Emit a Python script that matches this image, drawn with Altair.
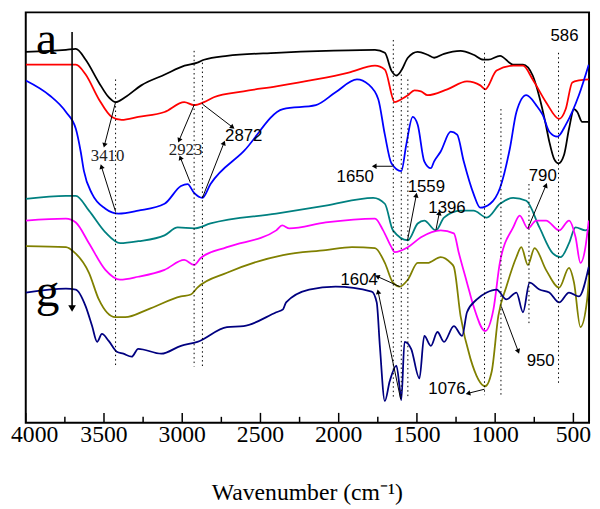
import altair as alt
import pandas as pd
import numpy as np

# ---------------- spectra (wavenumber cm-1, transmittance in arbitrary offset units) -------------
wn_a = [4000, 3743, 3680, 3617, 3533, 3470, 3426, 3365, 3262, 3111, 2985, 2903, 2861, 2714, 2399, 2083, 1768, 1705, 1663, 1631, 1600, 1558, 1495, 1432, 1390, 1327, 1221, 1138, 1075, 1043, 969, 885, 822, 760, 717, 680, 654, 622, 595, 559, 528, 496, 475, 444, 402]
tr_a = [376, 378, 379, 368, 345, 330, 325, 330, 342, 353, 362, 365, 368, 372, 375, 377, 378, 375, 357, 352, 357, 370, 376, 373, 370, 374, 377, 373, 368, 368, 372, 363, 363, 352, 330, 305, 285, 267, 263, 272, 298, 318, 315, 305, 305]

wn_b = [4000, 3680, 3617, 3533, 3450, 3387, 3281, 3113, 2987, 2924, 2861, 2798, 2608, 2399, 2146, 1936, 1768, 1705, 1642, 1600, 1558, 1516, 1474, 1432, 1306, 1180, 1095, 1064, 991, 885, 822, 760, 675, 591, 549, 507, 465, 402]
tr_b = [363, 363, 353, 328, 310, 307, 310, 315, 325, 322, 325, 330, 336, 341, 348, 355, 362, 358, 325, 328, 332, 337, 336, 332, 338, 346, 342, 338, 357, 362, 362, 348, 325, 308, 318, 345, 347, 348]

wn_c = [4000, 3849, 3743, 3680, 3649, 3628, 3576, 3491, 3407, 3281, 3113, 3008, 2966, 2924, 2871, 2819, 2608, 2356, 2146, 2020, 1883, 1810, 1747, 1705, 1663, 1600, 1568, 1527, 1495, 1453, 1411, 1390, 1348, 1284, 1243, 1201, 1138, 1095, 1032, 969, 906, 864, 801, 738, 696, 654, 602, 549, 465, 402]
tr_c = [347, 332, 315, 298, 275, 255, 232, 217, 212, 215, 222, 240, 242, 233, 228, 242, 275, 318, 322, 335, 348, 343, 328, 292, 263, 255, 282, 310, 302, 265, 258, 265, 275, 295, 292, 265, 232, 218, 222, 238, 278, 315, 332, 322, 312, 295, 290, 302, 332, 363]

wn_d = [4000, 3743, 3680, 3596, 3491, 3397, 3281, 3113, 3029, 2924, 2819, 2399, 2083, 1779, 1705, 1653, 1558, 1495, 1453, 1379, 1327, 1221, 1138, 1054, 969, 885, 801, 717, 633, 581, 528, 486, 423, 400]
tr_d = [227, 230, 230, 215, 193, 182, 184, 190, 198, 197, 202, 212, 220, 228, 222, 195, 185, 202, 205, 195, 208, 215, 215, 208, 222, 228, 225, 198, 172, 168, 182, 198, 195, 197]

wn_e = [4000, 3743, 3680, 3596, 3491, 3397, 3281, 3113, 2987, 2924, 2882, 2714, 2399, 2361, 2315, 2083, 1768, 1716, 1663, 1642, 1558, 1474, 1348, 1264, 1232, 1180, 1138, 1064, 1011, 969, 885, 843, 791, 738, 675, 591, 528, 486, 455, 423, 402]
tr_e = [205, 207, 203, 182, 155, 145, 148, 155, 165, 160, 167, 178, 195, 200, 197, 203, 207, 195, 178, 173, 178, 188, 195, 192, 172, 142, 118, 93, 115, 163, 198, 210, 197, 205, 205, 195, 205, 188, 162, 178, 205]

wn_f = [4000, 3743, 3691, 3596, 3533, 3428, 3365, 3218, 3008, 2945, 2903, 2714, 2356, 2083, 1915, 1768, 1705, 1653, 1610, 1558, 1495, 1432, 1348, 1284, 1264, 1221, 1158, 1064, 1022, 980, 928, 864, 833, 791, 748, 675, 591, 528, 496, 455, 412, 400]
tr_f = [179, 178, 173, 152, 125, 107, 107, 115, 128, 130, 137, 152, 170, 175, 178, 177, 162, 142, 138, 145, 162, 162, 168, 162, 158, 108, 65, 37, 52, 108, 138, 168, 178, 160, 177, 155, 137, 157, 142, 97, 125, 150]

wn_g = [4000, 3743, 3680, 3617, 3576, 3544, 3513, 3470, 3418, 3376, 3323, 3281, 3134, 3008, 2903, 2714, 2608, 2399, 2356, 2336, 2189, 2020, 1789, 1757, 1737, 1705, 1674, 1631, 1610, 1600, 1579, 1537, 1484, 1453, 1411, 1369, 1327, 1264, 1211, 1180, 1117, 1054, 991, 928, 864, 822, 780, 717, 654, 591, 528, 465, 402]
tr_g = [132, 136, 135, 118, 98, 82, 90, 83, 72, 70, 67, 75, 70, 78, 82, 97, 98, 112, 115, 122, 135, 138, 133, 122, 78, 22, 42, 58, 35, 23, 82, 75, 45, 88, 78, 92, 82, 98, 88, 112, 125, 132, 135, 125, 132, 112, 142, 135, 132, 122, 132, 128, 158]

series_names = ["a", "b", "c", "d", "e", "f", "g"]
series_colors = ["#000000", "#FF0000", "#0000FF", "#008080", "#FF00FF", "#808000", "#000080"]
series_wn = [wn_a, wn_b, wn_c, wn_d, wn_e, wn_f, wn_g]
series_tr = [tr_a, tr_b, tr_c, tr_d, tr_e, tr_f, tr_g]

# ---------------- annotations -------------
dot_wn = [3426, 2924, 2871, 1651, 1600, 1558, 1068, 963, 784, 595]
dot_top = [348, 377, 365, 388, 353, 348, 375, 318, 242, 375]
dot_bot = [58, 57, 57, 25, 25, 25, 28, 28, 100, 38]

arr_w0 = [3426, 3426, 2924, 2947, 2871, 2871, 1655, 1560, 1379, 791, 1610, 1604, 1068, 961]
arr_t0 = [325, 214, 322, 243, 323, 228, 260, 185, 195, 197, 138, 24, 34, 118]
arr_w1 = [3496, 3515, 3018, 3010, 2682, 2735, 1768, 1505, 1358, 677, 1749, 1747, 1169, 854]
arr_t1 = [282, 259, 287, 268, 300, 283, 260, 230, 212, 240, 148, 132, 30, 73]

big_arrow_wn = [3704]
big_arrow_top = [396]
big_arrow_bot = [117]

sans_text = ["586", "2872", "1650", "1559", "1396", "790", "1604", "1076", "950"]
sans_wn = [557, 2607, 1894, 1440, 1308, 696, 1869, 1308, 709]
sans_tr = [392, 291, 249, 239, 218, 250, 145, 34, 63]

serif_text = ["3410", "2923"]
serif_wn = [3477, 2979]
serif_tr = [270, 276]

letter_text = ["a", "g"]
letter_wn = [3868, 3861]
letter_tr = [374, 118]

tick_major = [4000, 3500, 3000, 2500, 2000, 1500, 1000, 500]
tick_minor = [3750, 3250, 2750, 2250, 1750, 1250, 750]
tick_labels = ["4000", "3500", "3000", "2500", "2000", "1500", "1000", "500"]
x_title = "Wavenumber (cm⁻¹)"

# ---------------- build -------------
W, H = 571, 416
XMAX, XMIN = 4000, 400
YMIN, YMAX = 0, 416
SERIF = "Liberation Serif"

rows = []
for n, ws, ts in zip(series_names, series_wn, series_tr):
    for w, t in zip(ws, ts):
        rows.append({"series": n, "wn": w, "T": t})
df = pd.DataFrame(rows)

xs = alt.Scale(domain=[XMAX, XMIN], nice=False, zero=False)
ys = alt.Scale(domain=[YMIN, YMAX], nice=False, zero=False)

lines = alt.Chart(df).mark_line(strokeWidth=1.8, clip=True, interpolate="monotone").encode(
    x=alt.X("wn:Q", scale=xs, axis=None),
    y=alt.Y("T:Q", scale=ys, axis=None),
    color=alt.Color("series:N", scale=alt.Scale(domain=series_names, range=series_colors), legend=None),
    detail="series:N",
)

dots_df = pd.DataFrame({"wn": dot_wn, "t0": dot_top, "t1": dot_bot})
dots = alt.Chart(dots_df).mark_rule(color="black", strokeWidth=1, strokeDash=[1.5, 3]).encode(
    x=alt.X("wn:Q", scale=xs), y=alt.Y("t0:Q", scale=ys), y2="t1:Q"
)

# arrow directions (pixel space) for arrow heads
sx = W / (XMAX - XMIN)
sy = H / (YMAX - YMIN)
a0w, a0t, a1w, a1t = map(np.array, (arr_w0, arr_t0, arr_w1, arr_t1))
dxp = -(a1w - a0w) * sx
dyp = -(a1t - a0t) * sy
ang = (np.degrees(np.arctan2(dxp, -dyp)) + 360) % 360
arr_df = pd.DataFrame({"w0": arr_w0, "t0": arr_t0, "w1": arr_w1, "t1": arr_t1, "ang": ang})
arr_lines = alt.Chart(arr_df).mark_rule(color="black", strokeWidth=1).encode(
    x=alt.X("w0:Q", scale=xs), y=alt.Y("t0:Q", scale=ys), x2="w1:Q", y2="t1:Q"
)
arr_heads = alt.Chart(arr_df).mark_point(shape="triangle", filled=True, color="black", size=30, opacity=1).encode(
    x=alt.X("w1:Q", scale=xs), y=alt.Y("t1:Q", scale=ys), angle=alt.Angle("ang:Q", scale=None)
)

big_df = pd.DataFrame({"wn": big_arrow_wn, "t0": big_arrow_top, "t1": big_arrow_bot, "ang": [180]})
big_line = alt.Chart(big_df).mark_rule(color="black", strokeWidth=1.6).encode(
    x=alt.X("wn:Q", scale=xs), y=alt.Y("t0:Q", scale=ys), y2="t1:Q"
)
big_head = alt.Chart(big_df).mark_point(shape="triangle", filled=True, color="black", size=60, opacity=1).encode(
    x=alt.X("wn:Q", scale=xs), y=alt.Y("t1:Q", scale=ys), angle=alt.Angle("ang:Q", scale=None)
)

sans_df = pd.DataFrame({"txt": sans_text, "wn": sans_wn, "T": sans_tr})
sans_lab = alt.Chart(sans_df).mark_text(font="Liberation Sans", fontSize=17, color="black", baseline="middle", align="center").encode(
    x=alt.X("wn:Q", scale=xs), y=alt.Y("T:Q", scale=ys), text="txt:N"
)
serif_df = pd.DataFrame({"txt": serif_text, "wn": serif_wn, "T": serif_tr})
serif_lab = alt.Chart(serif_df).mark_text(font=SERIF, fontSize=17, color="#222222", baseline="middle", align="center").encode(
    x=alt.X("wn:Q", scale=xs), y=alt.Y("T:Q", scale=ys), text="txt:N"
)
let_df = pd.DataFrame({"txt": letter_text, "wn": letter_wn, "T": letter_tr})
letters = alt.Chart(let_df).mark_text(font=SERIF, fontSize=48, color="black", baseline="alphabetic", align="center").encode(
    x=alt.X("wn:Q", scale=xs), y=alt.Y("T:Q", scale=ys), text="txt:N"
)

maj_df = pd.DataFrame({"wn": tick_major, "lab": tick_labels})
min_df = pd.DataFrame({"wn": tick_minor})
maj_ticks = alt.Chart(maj_df).mark_rule(color="black", strokeWidth=1.5).encode(
    x=alt.X("wn:Q", scale=xs), y=alt.value(H), y2=alt.value(H - 10)
)
min_ticks = alt.Chart(min_df).mark_rule(color="black", strokeWidth=1.5).encode(
    x=alt.X("wn:Q", scale=xs), y=alt.value(H), y2=alt.value(H - 6)
)
tick_text = alt.Chart(maj_df.iloc[1:]).mark_text(font=SERIF, fontSize=24, color="black", baseline="middle", align="center").encode(
    x=alt.X("wn:Q", scale=xs), y=alt.value(H + 13), text="lab:N"
)
# first label nudged right so it stays inside the page
tick_text_first = alt.Chart(maj_df.iloc[:1]).mark_text(font=SERIF, fontSize=24, color="black", baseline="middle", align="center", dx=9).encode(
    x=alt.X("wn:Q", scale=xs), y=alt.value(H + 13), text="lab:N"
)
title_df = pd.DataFrame({"wn": [(XMAX + XMIN) / 2], "txt": [x_title]})
title_text = alt.Chart(title_df).mark_text(font=SERIF, fontSize=24, color="black", baseline="middle", align="center").encode(
    x=alt.X("wn:Q", scale=xs), y=alt.value(H + 71), text="txt:N"
)

chart = alt.layer(
    lines, dots, arr_lines, arr_heads, big_line, big_head,
    sans_lab, serif_lab, letters, maj_ticks, min_ticks, tick_text, tick_text_first, title_text
).properties(
    width=W, height=H,
    autosize=alt.AutoSizeParams(type="none"),
    padding={"left": 18, "top": 1, "right": 3, "bottom": 84},
    background="white",
).configure_view(stroke="black", strokeWidth=2)

chart.save("out.html", embed_options={"renderer": "svg", "actions": False})
